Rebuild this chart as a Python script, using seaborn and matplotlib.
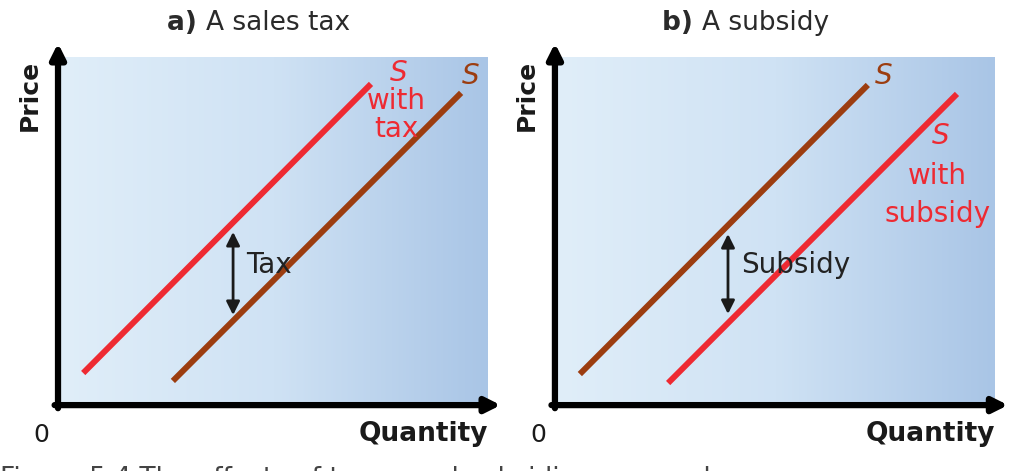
import numpy as np
import pandas as pd
import matplotlib
matplotlib.use('Agg')
import matplotlib.pyplot as plt
import seaborn as sns
from matplotlib.colors import LinearSegmentedColormap

sns.set_style('white')
plt.rcParams['font.family'] = ['DejaVu Sans']

# Datos de las curvas (cantidad, precio) en escala 0-10
curvas_a = ['S with tax', 'S']
q_a = [[0.52, 7.26], [2.62, 9.37]]
p_a = [[0.84, 9.22], [0.61, 8.96]]

curvas_b = ['S', 'S with subsidy']
q_b = [[0.50, 7.09], [2.52, 9.13]]
p_b = [[0.81, 9.19], [0.55, 8.93]]

# Flechas de impuesto / subsidio (q, p_inferior, p_superior)
flecha_a = [4.03, 2.52, 4.93]
flecha_b = [3.89, 2.55, 4.87]

titulos = ['A sales tax', 'A subsidy']
letras = ['a)', 'b)']

rojo = '#ee2a32'
marron = '#9c3d10'
fondo = LinearSegmentedColormap.from_list('fondo', ['#e0eef9', '#cfe2f4', '#a9c5e6'])

fig = plt.figure(figsize=(10.24, 4.71), dpi=100)
ax_a = fig.add_axes([61 / 1024, 69 / 471, 427 / 1024, 345 / 471])
ax_b = fig.add_axes([558 / 1024, 69 / 471, 437 / 1024, 345 / 471])


def preparar(ax, letra, titulo, xt):
    grad = np.linspace(0, 1, 256).reshape(1, -1)
    ax.imshow(grad, extent=(0, 10, 0, 10), aspect='auto', cmap=fondo, zorder=0)
    ax.set_xlim(0, 10)
    ax.set_ylim(0, 10)
    ax.set_xticks([])
    ax.set_yticks([])
    for s in ax.spines.values():
        s.set_visible(False)
    # ejes con flechas
    ax.annotate('', xy=(-0.007, 1.04), xytext=(-0.007, -0.018), xycoords='axes fraction',
                arrowprops=dict(arrowstyle='-|>', lw=4.5, color='black', mutation_scale=22,
                                shrinkA=0, shrinkB=0), annotation_clip=False)
    ax.annotate('', xy=(1.03, -0.009), xytext=(-0.015, -0.009), xycoords='axes fraction',
                arrowprops=dict(arrowstyle='-|>', lw=4.5, color='black', mutation_scale=22,
                                shrinkA=0, shrinkB=0), annotation_clip=False)
    ax.text(-0.045, 0.89, 'Price', transform=ax.transAxes, rotation=90, fontsize=18,
            fontweight='bold', ha='right', va='center', color='#1a1a1a')
    ax.text(-0.045, -0.06, '0', transform=ax.transAxes, fontsize=18, ha='center', va='top',
            color='#1a1a1a')
    ax.text(1.0, -0.055, 'Quantity', transform=ax.transAxes, fontsize=19, fontweight='bold',
            ha='right', va='top', color='#1a1a1a')
    ax.text(xt, 1.06, letra + ' ', transform=ax.transAxes, fontsize=19, fontweight='bold',
            ha='right', va='bottom', color='#2a2a2a')
    ax.text(xt, 1.06, titulo, transform=ax.transAxes, fontsize=19,
            ha='left', va='bottom', color='#2a2a2a')


def dibujar(ax, curvas, qs, ps, colores):
    for nombre, q, p, c in zip(curvas, qs, ps, colores):
        df = pd.DataFrame({'Cantidad': q, 'Precio': p})
        sns.lineplot(data=df, x='Cantidad', y='Precio', ax=ax, color=c, lw=4.3,
                     solid_capstyle='butt', zorder=3)
    ax.set_xlabel('')
    ax.set_ylabel('')


def flecha(ax, f, texto):
    ax.annotate('', xy=(f[0], f[2]), xytext=(f[0], f[1]),
                arrowprops=dict(arrowstyle='<|-|>', lw=2, color='#1a1a1a', mutation_scale=20,
                                shrinkA=0, shrinkB=0), zorder=4)
    ax.text(f[0] + 0.3, (f[1] + f[2]) / 2 + 0.25, texto, fontsize=20, ha='left', va='center',
            color='#222222', zorder=5)


# Panel a: impuesto
preparar(ax_a, letras[0], titulos[0], 0.34)
dibujar(ax_a, curvas_a, q_a, p_a, [rojo, marron])
flecha(ax_a, flecha_a, 'Tax')
ax_a.text(7.9, 9.55, 'S', fontsize=20, style='italic', color=rojo, ha='center', va='center')
ax_a.text(7.85, 8.72, 'with', fontsize=20, color=rojo, ha='center', va='center')
ax_a.text(7.85, 7.9, 'tax', fontsize=20, color=rojo, ha='center', va='center')
ax_a.text(9.6, 9.45, 'S', fontsize=20, style='italic', color=marron, ha='center', va='center')

# Panel b: subsidio
preparar(ax_b, letras[1], titulos[1], 0.33)
dibujar(ax_b, curvas_b, q_b, p_b, [marron, rojo])
flecha(ax_b, flecha_b, 'Subsidy')
ax_b.text(7.45, 9.45, 'S', fontsize=20, style='italic', color=marron, ha='center', va='center')
ax_b.text(8.75, 7.72, 'S', fontsize=20, style='italic', color=rojo, ha='center', va='center')
ax_b.text(8.68, 6.55, 'with', fontsize=20, color=rojo, ha='center', va='center')
ax_b.text(8.68, 5.45, 'subsidy', fontsize=20, color=rojo, ha='center', va='center')

# pie de figura (recortado en el borde inferior)
fig.text(0.0, 5 / 471, 'Figure 5.4 The effects of taxes and subsidies on supply',
         fontsize=19, color='#444444', ha='left', va='top')

fig.savefig('out.png', dpi=100, facecolor='white')
